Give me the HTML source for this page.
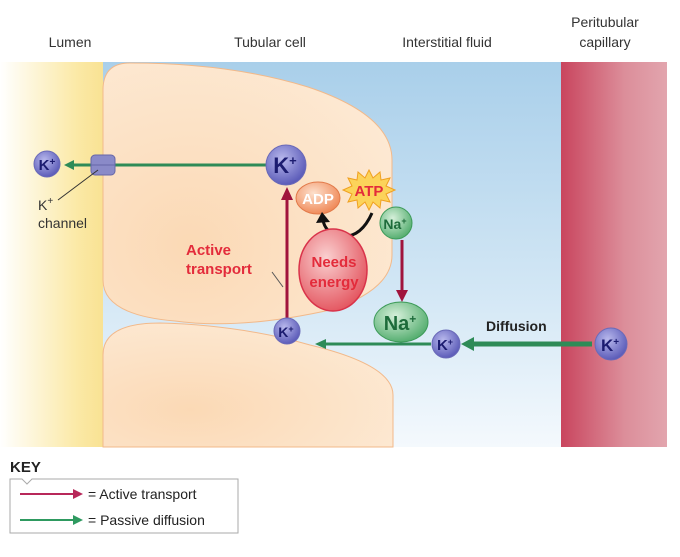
<!DOCTYPE html>
<html><head><meta charset="utf-8"><style>
body{margin:0;background:#fff;width:680px;height:552px;overflow:hidden}
svg text{font-family:"Liberation Sans",Arial,sans-serif}
</style></head><body>
<svg width="680" height="552" viewBox="0 0 680 552" xmlns="http://www.w3.org/2000/svg">
<defs>
<linearGradient id="lum" x1="0" x2="1"><stop offset="0" stop-color="#fff"/><stop offset="0.7" stop-color="#fbe9a6"/><stop offset="1" stop-color="#f8e08e"/></linearGradient>
<linearGradient id="blue" x1="0" y1="0" x2="0" y2="1"><stop offset="0" stop-color="#a9cfea"/><stop offset="0.6" stop-color="#d3e7f5"/><stop offset="1" stop-color="#f4f9fd"/></linearGradient>
<linearGradient id="cap" x1="0" x2="1"><stop offset="0" stop-color="#c9455e"/><stop offset="0.6" stop-color="#dc8e9a"/><stop offset="1" stop-color="#e2a5ae"/></linearGradient>
<radialGradient id="cell" cx="0.3" cy="0.7" r="0.8"><stop offset="0" stop-color="#fbd9b5"/><stop offset="1" stop-color="#fde9d3"/></radialGradient>
<radialGradient id="kb" cx="0.4" cy="0.35" r="0.7"><stop offset="0" stop-color="#b8b8ec"/><stop offset="1" stop-color="#5555b5"/></radialGradient>
<radialGradient id="nag" cx="0.4" cy="0.35" r="0.7"><stop offset="0" stop-color="#d6f0da"/><stop offset="1" stop-color="#4eaa6a"/></radialGradient>
<radialGradient id="red" cx="0.4" cy="0.35" r="0.7"><stop offset="0" stop-color="#fad0d0"/><stop offset="1" stop-color="#e3525c"/></radialGradient>
<radialGradient id="adp" cx="0.4" cy="0.35" r="0.7"><stop offset="0" stop-color="#fde0cc"/><stop offset="1" stop-color="#ef8552"/></radialGradient>
</defs>
<rect x="0" y="62" width="110" height="385" fill="url(#lum)"/>
<rect x="103" y="62" width="460" height="385" fill="url(#blue)"/>
<rect x="561" y="62" width="106" height="385" fill="url(#cap)"/>
<path d="M103,90 Q103,63 130,63 Q230,63 308,87 Q392,115 392,160 L392,255 Q392,290 330,310 Q240,330 175,321 Q103,315 103,280 Z" fill="url(#cell)" stroke="#f2b98a" stroke-width="1"/>
<path d="M103,447 L103,355 Q103,323 160,323 Q240,325 310,345 Q393,365 393,395 L393,447 Z" fill="url(#cell)" stroke="#f2b98a" stroke-width="1"/>
<text x="70" y="47" font-size="14" fill="#333" text-anchor="middle">Lumen</text>
<text x="270" y="47" font-size="14" fill="#333" text-anchor="middle">Tubular cell</text>
<text x="447" y="47" font-size="14" fill="#333" text-anchor="middle">Interstitial fluid</text>
<text x="605" y="27" font-size="14" fill="#333" text-anchor="middle">Peritubular</text>
<text x="605" y="47" font-size="14" fill="#333" text-anchor="middle">capillary</text>
<!-- top green arrow -->
<line x1="268" y1="165" x2="72" y2="165" stroke="#2e8b57" stroke-width="3"/>
<path d="M74,160 L64,165 L74,170 z" fill="#2e8b57"/>
<rect x="91" y="155" width="24" height="20" rx="4" fill="#8a8ac8" stroke="#6666a8"/>
<line x1="91" y1="165" x2="115" y2="165" stroke="#6666a8"/>
<line x1="98" y1="170" x2="58" y2="200" stroke="#333"/>
<text x="38" y="210" font-size="14" fill="#333">K<tspan dy="-6" font-size="10">+</tspan></text>
<text x="38" y="228" font-size="14" fill="#333">channel</text>
<circle cx="47" cy="164" r="13" fill="url(#kb)" stroke="#6a6ab8"/>
<text x="47" y="170" font-size="15" font-weight="bold" fill="#1c1c70" text-anchor="middle">K<tspan font-size="10" dy="-5">+</tspan></text>
<circle cx="286" cy="165" r="20" fill="url(#kb)" stroke="#6a6ab8"/>
<text x="285" y="173" font-size="22" font-weight="bold" fill="#1c1c70" text-anchor="middle">K<tspan font-size="13" dy="-8">+</tspan></text>
<!-- red vertical arrow -->
<line x1="287" y1="318" x2="287" y2="198" stroke="#a0143c" stroke-width="3"/>
<path d="M281,200 L287,187 L293,200 z" fill="#a0143c"/>
<line x1="272" y1="272" x2="283" y2="287" stroke="#555"/>
<text x="186" y="255" font-size="15" font-weight="bold" fill="#e32b3b">Active</text>
<text x="186" y="274" font-size="15" font-weight="bold" fill="#e32b3b">transport</text>
<circle cx="287" cy="331" r="13" fill="url(#kb)" stroke="#6a6ab8"/>
<text x="286" y="337" font-size="14" font-weight="bold" fill="#1c1c70" text-anchor="middle">K<tspan font-size="9" dy="-5">+</tspan></text>
<ellipse cx="318" cy="198" rx="22" ry="16" fill="url(#adp)" stroke="#e27a4a"/>
<text x="318" y="204" font-size="15" font-weight="bold" fill="#fff" text-anchor="middle">ADP</text>
<polygon points="369,170 373,178 380,172 381,180 390,178 386,186 395,190 386,194 390,202 381,200 380,208 373,202 369,210 365,202 358,208 357,200 348,202 352,194 343,190 352,186 348,178 357,180 358,172 365,178" fill="#fcd35a" stroke="#f0a020"/>
<text x="369" y="196" font-size="15" font-weight="bold" fill="#e32b3b" text-anchor="middle">ATP</text>
<path d="M372,213 Q360,240 338,236 Q325,232 323,220" fill="none" stroke="#111" stroke-width="3"/>
<path d="M316,223 L322,212 L330,222 z" fill="#111"/>
<circle cx="396" cy="223" r="16" fill="url(#nag)" stroke="#3c9a58"/>
<text x="395" y="229" font-size="14" font-weight="bold" fill="#1d6b3a" text-anchor="middle">Na<tspan font-size="9" dy="-5">+</tspan></text>
<ellipse cx="333" cy="270" rx="34" ry="41" fill="url(#red)" stroke="#d9334a" stroke-width="1.5"/>
<text x="334" y="267" font-size="15" font-weight="bold" fill="#e32b3b" text-anchor="middle">Needs</text>
<text x="334" y="287" font-size="15" font-weight="bold" fill="#e32b3b" text-anchor="middle">energy</text>
<line x1="402" y1="240" x2="402" y2="292" stroke="#a0143c" stroke-width="3"/>
<path d="M396,290 L402,302 L408,290 z" fill="#a0143c"/>
<ellipse cx="401" cy="322" rx="27" ry="20" fill="url(#nag)" stroke="#3c9a58"/>
<text x="400" y="330" font-size="20" font-weight="bold" fill="#1d6b3a" text-anchor="middle">Na<tspan font-size="12" dy="-7">+</tspan></text>
<!-- bottom green arrows -->
<line x1="431" y1="344" x2="324" y2="344" stroke="#2e8b57" stroke-width="3"/>
<path d="M326,339 L315,344 L326,349 z" fill="#2e8b57"/>
<line x1="592" y1="344" x2="472" y2="344" stroke="#2e8b57" stroke-width="5"/>
<path d="M474,337 L461,344 L474,351 z" fill="#2e8b57"/>
<circle cx="446" cy="344" r="14" fill="url(#kb)" stroke="#6a6ab8"/>
<text x="445" y="350" font-size="15" font-weight="bold" fill="#1c1c70" text-anchor="middle">K<tspan font-size="9" dy="-5">+</tspan></text>
<circle cx="611" cy="344" r="16" fill="url(#kb)" stroke="#6a6ab8"/>
<text x="610" y="351" font-size="17" font-weight="bold" fill="#1c1c70" text-anchor="middle">K<tspan font-size="10" dy="-6">+</tspan></text>
<text x="486" y="331" font-size="14" font-weight="bold" fill="#222">Diffusion</text>
<!-- key -->
<text x="10" y="472" font-size="15" font-weight="bold" fill="#222">KEY</text>
<path d="M10,479 L22,479 L27,484 L32,479 L238,479 L238,533 L10,533 Z" fill="#fff" stroke="#aaa"/>
<line x1="20" y1="494" x2="75" y2="494" stroke="#b8285a" stroke-width="2"/>
<path d="M73,489 L83,494 L73,499 z" fill="#b8285a"/>
<text x="88" y="499" font-size="14" fill="#222">= Active transport</text>
<line x1="20" y1="520" x2="75" y2="520" stroke="#2e9a60" stroke-width="2"/>
<path d="M73,515 L83,520 L73,525 z" fill="#2e9a60"/>
<text x="88" y="525" font-size="14" fill="#222">= Passive diffusion</text>
</svg>
</body></html>
